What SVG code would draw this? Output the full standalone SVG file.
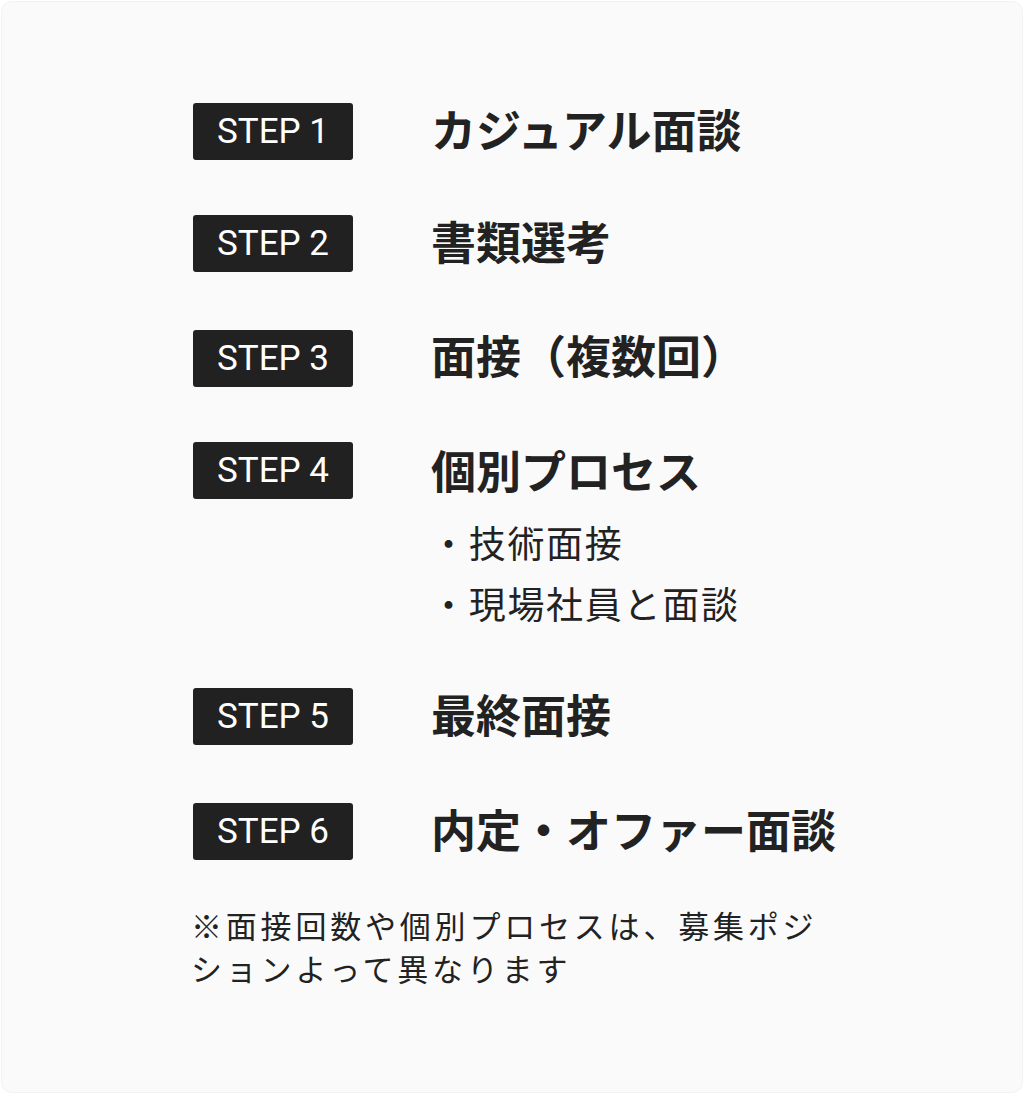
<svg xmlns="http://www.w3.org/2000/svg" width="1024" height="1094" viewBox="0 0 1024 1094">
  <style>
    .badge { fill: #212121; }
    .btxt { font-family: Roboto, "Liberation Sans", sans-serif; font-size: 35px; fill: #ffffff; text-anchor: middle; }
    .title { font-family: "Noto Sans CJK JP", "Noto Sans", sans-serif; font-size: 45px; font-weight: 700; fill: #222222; }
    .sub { font-family: "Noto Sans CJK JP", "Noto Sans", sans-serif; font-size: 37px; font-weight: 400; fill: #222222; letter-spacing: 1.7px; }
    .note { font-family: "Noto Sans CJK JP", "Noto Sans", sans-serif; font-size: 31px; font-weight: 400; fill: #222222; letter-spacing: 3.8px; }
  </style>
  <rect x="0" y="0" width="1024" height="1094" fill="#ffffff"/>
  <rect x="1.5" y="1.5" width="1021" height="1091" rx="10" fill="#fafafa" stroke="#f2f2f2" stroke-width="1"/>

  <g id="step1">
    <rect class="badge" x="193" y="103" width="160" height="57" rx="3"/>
    <text class="btxt" x="273" y="143">STEP 1</text>
    <text class="title" x="431" y="148">カジュアル面談</text>
  </g>
  <g id="step2">
    <rect class="badge" x="193" y="215" width="160" height="57" rx="3"/>
    <text class="btxt" x="273" y="255">STEP 2</text>
    <text class="title" x="431" y="260">書類選考</text>
  </g>
  <g id="step3">
    <rect class="badge" x="193" y="330" width="160" height="57" rx="3"/>
    <text class="btxt" x="273" y="370">STEP 3</text>
    <text class="title" x="431" y="374">面接（複数回）</text>
  </g>
  <g id="step4">
    <rect class="badge" x="193" y="442" width="160" height="57" rx="3"/>
    <text class="btxt" x="273" y="482">STEP 4</text>
    <text class="title" x="431" y="489">個別プロセス</text>
    <text class="sub" x="430" y="558">・技術面接</text>
    <text class="sub" x="430" y="619">・現場社員と面談</text>
  </g>
  <g id="step5">
    <rect class="badge" x="193" y="688" width="160" height="57" rx="3"/>
    <text class="btxt" x="273" y="728">STEP 5</text>
    <text class="title" x="431" y="733">最終面接</text>
  </g>
  <g id="step6">
    <rect class="badge" x="193" y="803" width="160" height="57" rx="3"/>
    <text class="btxt" x="273" y="843">STEP 6</text>
    <text class="title" x="431" y="848">内定・オファー面談</text>
  </g>
  <g id="connectors"></g>
  <g id="note">
    <text class="note" x="191" y="938">※面接回数や個別プロセスは、募集ポジ</text>
    <text class="note" x="191" y="981">ションよって異なります</text>
  </g>
</svg>
